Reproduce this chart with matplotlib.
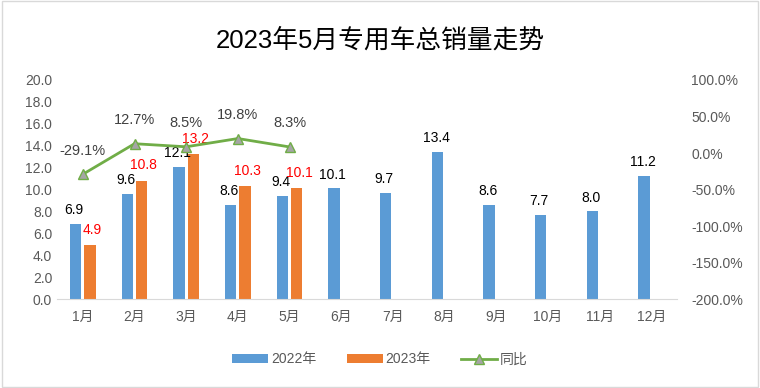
import matplotlib
matplotlib.use("Agg")
import matplotlib.pyplot as plt
import numpy as np
from matplotlib.patches import Rectangle

plt.rcParams['font.family'] = ['Liberation Sans', 'Noto Sans CJK SC', 'DejaVu Sans']

months = ['1月', '2月', '3月', '4月', '5月', '6月', '7月', '8月', '9月', '10月', '11月', '12月']
sales_2022 = [6.9, 9.6, 12.1, 8.6, 9.4, 10.1, 9.7, 13.4, 8.6, 7.7, 8.0, 11.2]
sales_2023 = [4.9, 10.8, 13.2, 10.3, 10.1]
yoy = [-29.1, 12.7, 8.5, 19.8, 8.3]
left_ticks = [0, 2, 4, 6, 8, 10, 12, 14, 16, 18, 20]
right_ticks = [-200, -150, -100, -50, 0, 50, 100]

blue = '#5B9BD5'
orange = '#ED7D31'
green = '#70AD47'
gray_txt = '#595959'

fig = plt.figure(figsize=(7.6, 3.88), dpi=100)
fig.patches.append(Rectangle((0.002, 0.003), 0.996, 0.994, transform=fig.transFigure,
                             fill=False, edgecolor='#D9D9D9', linewidth=1))
ax = fig.add_axes([0.075, 0.229, 0.816, 0.565])
ax2 = ax.twinx()

x = np.arange(len(months))
w = 0.22
off = 0.14
b1 = ax.bar(x - off, sales_2022, width=w, color=blue, zorder=2)
x23 = x[:len(sales_2023)]
b2 = ax.bar(x23 + off, sales_2023, width=w, color=orange, zorder=2)

for xi, v in zip(x, sales_2022):
    ax.annotate(f'{v:.1f}', (xi - off, v), xytext=(-1, 10), textcoords='offset points',
                ha='center', va='center', fontsize=10, color='black')
for xi, v in zip(x23, sales_2023):
    ax.annotate(f'{v:.1f}', (xi + off, v), xytext=(1.5, 11), textcoords='offset points',
                ha='center', va='center', fontsize=10, color='#FF0000')

ax.set_xlim(-0.5, len(months) - 0.5)
ax.set_ylim(0, 20)
ax.set_yticks(left_ticks)
ax.set_yticklabels([f'{t:.1f}' for t in left_ticks])
ax.set_xticks(x)
ax.set_xticklabels(months)
ax.tick_params(axis='both', length=0, labelsize=10, colors=gray_txt)
ax.tick_params(axis='x', pad=8)
for s in ['top', 'left', 'right']:
    ax.spines[s].set_visible(False)
ax.spines['bottom'].set_color('#D9D9D9')

ln, = ax2.plot(x23, yoy, color=green, linewidth=2, marker='^', markersize=7,
               markerfacecolor='#A5A5A5', markeredgecolor=green, markeredgewidth=1, zorder=3)
for xi, v in zip(x23, yoy):
    ax2.annotate(f'{v:.1f}%', (xi, v), xytext=(0, 17), textcoords='offset points',
                 ha='center', va='center', fontsize=10.5, color='#404040')
ax2.set_ylim(-200, 100)
ax2.set_yticks(right_ticks)
ax2.set_yticklabels([f'{t:.1f}%' for t in right_ticks])
ax2.tick_params(axis='y', length=0, labelsize=10, colors=gray_txt, pad=10)
for s in ['top', 'left', 'right', 'bottom']:
    ax2.spines[s].set_visible(False)

fig.text(0.5, 0.897, '2023年5月专用车总销量走势', ha='center', va='center',
         fontsize=18.5, fontweight='medium', color='black')

fig.legend([b1, b2, ln], ['2022年', '2023年', '同比'], loc='center', ncol=3,
           bbox_to_anchor=(0.5, 0.074), frameon=False, fontsize=10,
           handlelength=2.6, handleheight=0.6, columnspacing=2.2, handletextpad=0.2,
           labelcolor=gray_txt)

fig.savefig('out.png', dpi=100)
